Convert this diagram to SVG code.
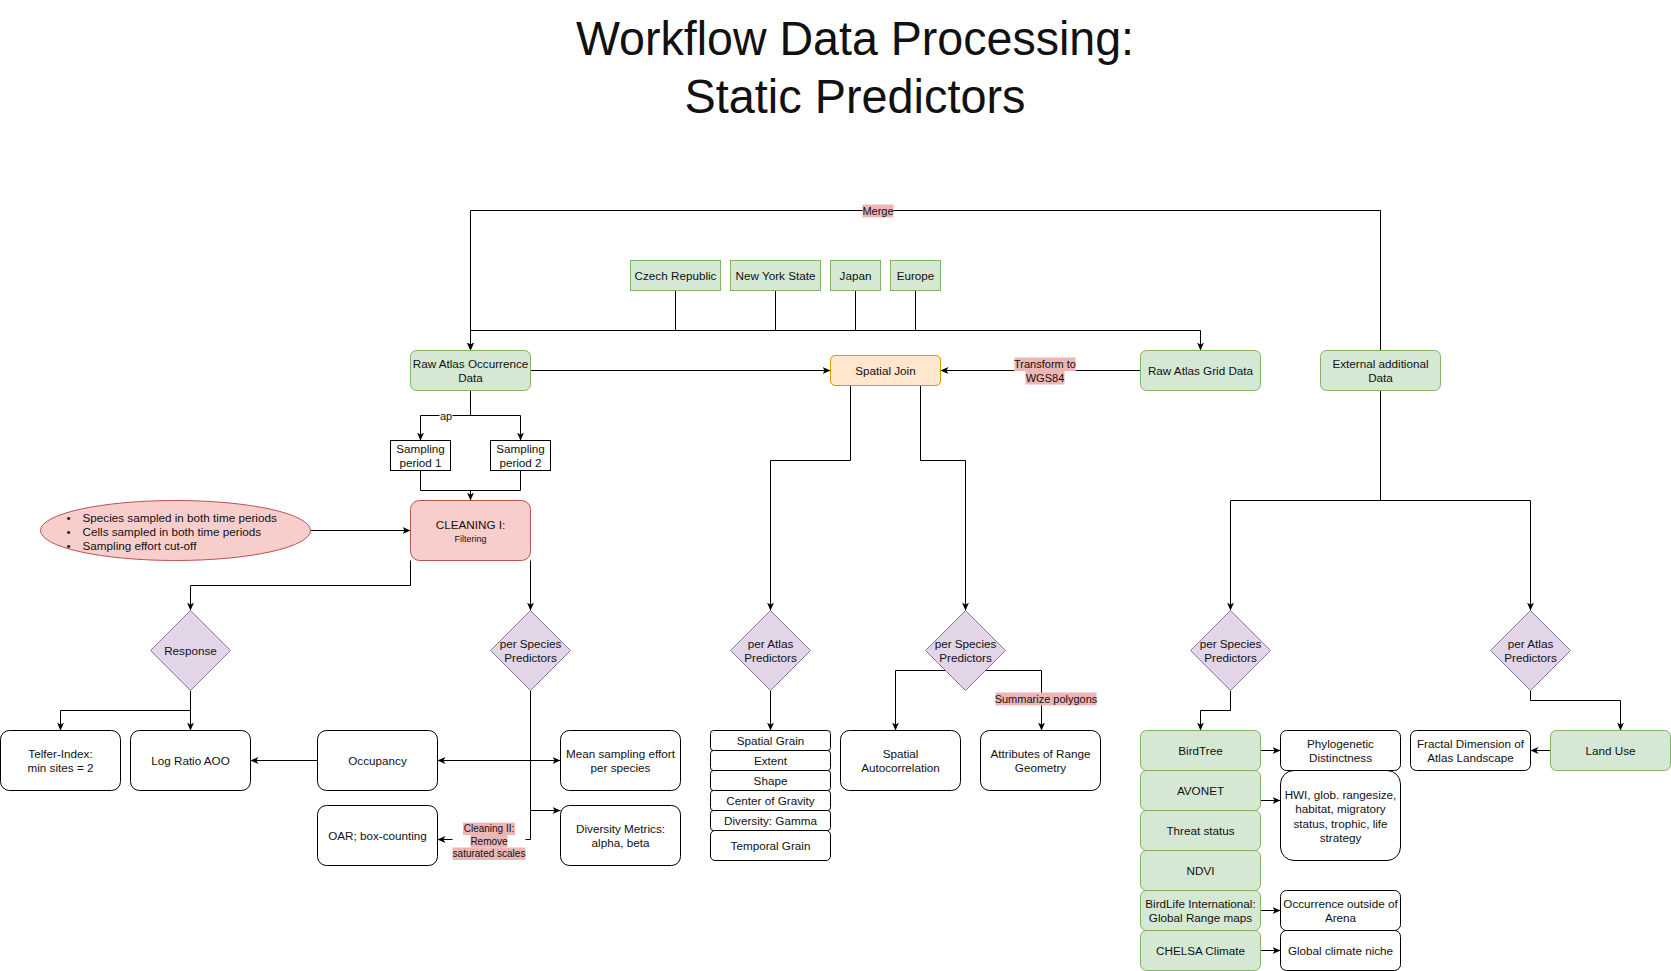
<svg xmlns="http://www.w3.org/2000/svg" width="1671" height="971" viewBox="0 0 1671 971">
<style>
text{font-family:"Liberation Sans",Arial,sans-serif;fill:#111}
.t{font-size:11.7px;text-anchor:middle;dominant-baseline:central}
.l{font-size:11.7px;text-anchor:start;dominant-baseline:central}
.e{font-size:11px;text-anchor:middle;dominant-baseline:central}
.e10{font-size:10px;text-anchor:middle;dominant-baseline:central}
.title{font-size:48px;text-anchor:middle}
.green{fill:#d5e8d4;stroke:#82b366}
.orange{fill:#ffe6cc;stroke:#d79b00}
.red{fill:#f8cecc;stroke:#b85450}
.purple{fill:#e1d5e7;stroke:#9673a6}
.white{fill:#fff;stroke:#000}
.conn path{fill:none;stroke:#000;stroke-width:1}
.lbl{fill:#ecb6b6}
.lblw{fill:#fff}
</style>
<defs>
<marker id="arr" markerUnits="userSpaceOnUse" viewBox="0 0 8 8" markerWidth="8" markerHeight="8" refX="8" refY="4" orient="auto">
<path d="M0,0.5 L8,4 L0,7.5 L2.2,4 z" fill="#000"/>
</marker>
</defs>
<rect width="1671" height="971" fill="#fff"/>
<g id="title">
<text class="title" x="855" y="55" textLength="558" lengthAdjust="spacingAndGlyphs">Workflow Data Processing:</text>
<text class="title" x="855" y="113" textLength="341" lengthAdjust="spacingAndGlyphs">Static Predictors</text>
</g>
<g transform="translate(0.5,0.5)">
<g id="connectors" class="conn">
<path d="M1380,350 V210 H470 V350" marker-end="url(#arr)"/>
<path d="M675,290 V330"/>
<path d="M775,290 V330"/>
<path d="M855,290 V330"/>
<path d="M915,290 V330"/>
<path d="M470,330 H1200 V350" marker-end="url(#arr)"/>
<path d="M470,330 V350" marker-end="url(#arr)"/>
<path d="M530,370 H830" marker-end="url(#arr)"/>
<path d="M1140,370 H940" marker-end="url(#arr)"/>
<path d="M470,390 V415 H420 V440" marker-end="url(#arr)"/>
<path d="M470,415 H520 V440" marker-end="url(#arr)"/>
<path d="M420,470 V490 H470 V500" marker-end="url(#arr)"/>
<path d="M520,470 V490 H470"/>
<path d="M310,530 H410" marker-end="url(#arr)"/>
<path d="M410,560 V585 H190 V610" marker-end="url(#arr)"/>
<path d="M530,560 V610" marker-end="url(#arr)"/>
<path d="M190,690 V710 H60 V730" marker-end="url(#arr)"/>
<path d="M190,710 V730" marker-end="url(#arr)"/>
<path d="M317,760 H250" marker-end="url(#arr)"/>
<path d="M530,760 H437" marker-end="url(#arr)"/>
<path d="M530,760 H560" marker-end="url(#arr)"/>
<path d="M530,690 V810 H560" marker-end="url(#arr)"/>
<path d="M530,810 V839 H437" marker-end="url(#arr)"/>
<path d="M850,385 V460 H770 V610" marker-end="url(#arr)"/>
<path d="M920,385 V460 H965 V610" marker-end="url(#arr)"/>
<path d="M770,690 V730" marker-end="url(#arr)"/>
<path d="M945,670 H895 V730" marker-end="url(#arr)"/>
<path d="M985,670 H1041 V730" marker-end="url(#arr)"/>
<path d="M1380,390 V500 H1230 V610" marker-end="url(#arr)"/>
<path d="M1380,500 H1530 V610" marker-end="url(#arr)"/>
<path d="M1230,690 V710 H1200 V730" marker-end="url(#arr)"/>
<path d="M1530,690 V700 H1620 V730" marker-end="url(#arr)"/>
<path d="M1550,750 H1530" marker-end="url(#arr)"/>
<path d="M1260,750 H1280" marker-end="url(#arr)"/>
<path d="M1260,800 H1280" marker-end="url(#arr)"/>
<path d="M1260,910 H1280" marker-end="url(#arr)"/>
<path d="M1260,950 H1280" marker-end="url(#arr)"/>
</g>
<g id="edge-labels">
<rect class="lbl" x="862" y="204" width="31" height="13"/>
<text class="e" x="877.5" y="210.5">Merge</text>
<rect class="lblw" x="439" y="411" width="13" height="10"/>
<text class="e" x="445.5" y="415">ap</text>
<rect class="lblw" x="1014" y="357" width="61" height="27"/>
<rect class="lbl" x="1014" y="357" width="61" height="13.5"/>
<rect class="lbl" x="1025" y="370.5" width="39" height="13.5"/>
<text class="e" x="1044.5" y="363.5">Transform to</text>
<text class="e" x="1044.5" y="377">WGS84</text>
<rect class="lbl" x="995" y="692" width="101" height="13"/>
<text class="e" x="1045.5" y="698.5">Summarize polygons</text>
<rect class="lblw" x="452" y="821" width="73" height="39"/>
<rect class="lbl" x="462.5" y="822" width="52" height="12.5"/>
<rect class="lbl" x="470" y="834.5" width="37" height="12.5"/>
<rect class="lbl" x="452" y="847" width="73" height="12.5"/>
<text class="e10" x="488.5" y="828">Cleaning II:</text>
<text class="e10" x="488.5" y="840.5">Remove</text>
<text class="e10" x="488.5" y="853">saturated scales</text>
</g>
<g id="czech"><rect class="green" x="630" y="260" width="90" height="30"/><text class="t" x="675" y="275">Czech Republic</text></g>
<g id="nys"><rect class="green" x="730" y="260" width="90" height="30"/><text class="t" x="775" y="275">New York State</text></g>
<g id="japan"><rect class="green" x="830" y="260" width="50" height="30"/><text class="t" x="855" y="275">Japan</text></g>
<g id="europe"><rect class="green" x="890" y="260" width="50" height="30"/><text class="t" x="915" y="275">Europe</text></g>
<g id="raw-occ"><rect class="green" x="410" y="350" width="120" height="40" rx="6"/><text class="t" x="470" y="363">Raw Atlas Occurrence</text><text class="t" x="470" y="377.4">Data</text></g>
<g id="spatial-join"><rect class="orange" x="830" y="355" width="110" height="30" rx="4.5"/><text class="t" x="885" y="370">Spatial Join</text></g>
<g id="raw-grid"><rect class="green" x="1140" y="350" width="120" height="40" rx="6"/><text class="t" x="1200" y="370">Raw Atlas Grid Data</text></g>
<g id="external"><rect class="green" x="1320" y="350" width="120" height="40" rx="6"/><text class="t" x="1380" y="363">External additional</text><text class="t" x="1380" y="377.4">Data</text></g>
<g id="sp1"><rect class="white" x="390" y="440" width="60" height="30"/><text class="t" x="420" y="448">Sampling</text><text class="t" x="420" y="462.4">period 1</text></g>
<g id="sp2"><rect class="white" x="490" y="440" width="60" height="30"/><text class="t" x="520" y="448">Sampling</text><text class="t" x="520" y="462.4">period 2</text></g>
<g id="cleaning1"><rect class="red" x="410" y="500" width="120" height="60" rx="9"/><text class="t" x="470" y="524">CLEANING I:</text><text class="t" x="470" y="538.5" style="font-size:9px">Filtering</text></g>
<g id="criteria"><ellipse class="red" cx="175" cy="530" rx="135" ry="30"/>
<text class="l" x="66" y="516.5">•</text><text class="l" x="82" y="516.5">Species sampled in both time periods</text>
<text class="l" x="66" y="530.5">•</text><text class="l" x="82" y="530.5">Cells sampled in both time periods</text>
<text class="l" x="66" y="545">•</text><text class="l" x="82" y="545">Sampling effort cut-off</text></g>
<g id="response"><path class="purple" d="M190,610 L230,650 L190,690 L150,650 Z"/><text class="t" x="190" y="650">Response</text></g>
<g id="per-species-1"><path class="purple" d="M530,610 L570,650 L530,690 L490,650 Z"/><text class="t" x="530" y="643">per Species</text><text class="t" x="530" y="657.4">Predictors</text></g>
<g id="per-atlas-1"><path class="purple" d="M770,610 L810,650 L770,690 L730,650 Z"/><text class="t" x="770" y="643">per Atlas</text><text class="t" x="770" y="657.4">Predictors</text></g>
<g id="per-species-2"><path class="purple" d="M965,610 L1005,650 L965,690 L925,650 Z"/><text class="t" x="965" y="643">per Species</text><text class="t" x="965" y="657.4">Predictors</text></g>
<g id="per-species-3"><path class="purple" d="M1230,610 L1270,650 L1230,690 L1190,650 Z"/><text class="t" x="1230" y="643">per Species</text><text class="t" x="1230" y="657.4">Predictors</text></g>
<g id="per-atlas-2"><path class="purple" d="M1530,610 L1570,650 L1530,690 L1490,650 Z"/><text class="t" x="1530" y="643">per Atlas</text><text class="t" x="1530" y="657.4">Predictors</text></g>
<g id="telfer"><rect class="white" x="0" y="730" width="120" height="60" rx="9"/><text class="t" x="60" y="753">Telfer-Index:</text><text class="t" x="60" y="767.4">min sites = 2</text></g>
<g id="logratio"><rect class="white" x="130" y="730" width="120" height="60" rx="9"/><text class="t" x="190" y="760">Log Ratio AOO</text></g>
<g id="occupancy"><rect class="white" x="317" y="730" width="120" height="60" rx="9"/><text class="t" x="377" y="760">Occupancy</text></g>
<g id="mean-effort"><rect class="white" x="560" y="730" width="120" height="60" rx="9"/><text class="t" x="620" y="753">Mean sampling effort</text><text class="t" x="620" y="767.4">per species</text></g>
<g id="oar"><rect class="white" x="317" y="805" width="120" height="60" rx="9"/><text class="t" x="377" y="835">OAR; box-counting</text></g>
<g id="diversity"><rect class="white" x="560" y="805" width="120" height="60" rx="9"/><text class="t" x="620" y="828">Diversity Metrics:</text><text class="t" x="620" y="842.4">alpha, beta</text></g>
<g id="spatial-grain"><rect class="white" x="710" y="730" width="120" height="20" rx="3"/><text class="t" x="770" y="740">Spatial Grain</text></g>
<g id="extent"><rect class="white" x="710" y="750" width="120" height="20" rx="3"/><text class="t" x="770" y="760">Extent</text></g>
<g id="shape"><rect class="white" x="710" y="770" width="120" height="20" rx="3"/><text class="t" x="770" y="780">Shape</text></g>
<g id="cog"><rect class="white" x="710" y="790" width="120" height="20" rx="3"/><text class="t" x="770" y="800">Center of Gravity</text></g>
<g id="gamma"><rect class="white" x="710" y="810" width="120" height="20" rx="3"/><text class="t" x="770" y="820">Diversity: Gamma</text></g>
<g id="temporal"><rect class="white" x="710" y="830" width="120" height="30" rx="4.5"/><text class="t" x="770" y="845">Temporal Grain</text></g>
<g id="sac"><rect class="white" x="840" y="730" width="120" height="60" rx="9"/><text class="t" x="900" y="753">Spatial</text><text class="t" x="900" y="767.4">Autocorrelation</text></g>
<g id="range-geom"><rect class="white" x="980" y="730" width="120" height="60" rx="9"/><text class="t" x="1040" y="753">Attributes of Range</text><text class="t" x="1040" y="767.4">Geometry</text></g>
<g id="birdtree"><rect class="green" x="1140" y="730" width="120" height="40" rx="6"/><text class="t" x="1200" y="750">BirdTree</text></g>
<g id="avonet"><rect class="green" x="1140" y="770" width="120" height="40" rx="6"/><text class="t" x="1200" y="790">AVONET</text></g>
<g id="threat"><rect class="green" x="1140" y="810" width="120" height="40" rx="6"/><text class="t" x="1200" y="830">Threat status</text></g>
<g id="ndvi"><rect class="green" x="1140" y="850" width="120" height="40" rx="6"/><text class="t" x="1200" y="870">NDVI</text></g>
<g id="birdlife"><rect class="green" x="1140" y="890" width="120" height="40" rx="6"/><text class="t" x="1200" y="903">BirdLife International:</text><text class="t" x="1200" y="917.4">Global Range maps</text></g>
<g id="chelsa"><rect class="green" x="1140" y="930" width="120" height="40" rx="6"/><text class="t" x="1200" y="950">CHELSA Climate</text></g>
<g id="phylo"><rect class="white" x="1280" y="730" width="120" height="40" rx="6"/><text class="t" x="1340" y="743">Phylogenetic</text><text class="t" x="1340" y="757.4">Distinctness</text></g>
<g id="hwi"><rect class="white" x="1280" y="770" width="120" height="90" rx="13.5"/><text class="t" x="1340" y="794">HWI, glob. rangesize,</text><text class="t" x="1340" y="808.4">habitat, migratory</text><text class="t" x="1340" y="822.8">status, trophic, life</text><text class="t" x="1340" y="837.2">strategy</text></g>
<g id="outside"><rect class="white" x="1280" y="890" width="120" height="40" rx="6"/><text class="t" x="1340" y="903">Occurrence outside of</text><text class="t" x="1340" y="917.4">Arena</text></g>
<g id="niche"><rect class="white" x="1280" y="930" width="120" height="40" rx="6"/><text class="t" x="1340" y="950">Global climate niche</text></g>
<g id="fractal"><rect class="white" x="1410" y="730" width="120" height="40" rx="6"/><text class="t" x="1470" y="743">Fractal Dimension of</text><text class="t" x="1470" y="757.4">Atlas Landscape</text></g>
<g id="landuse"><rect class="green" x="1550" y="730" width="120" height="40" rx="6"/><text class="t" x="1610" y="750">Land Use</text></g>
</g>
</svg>
